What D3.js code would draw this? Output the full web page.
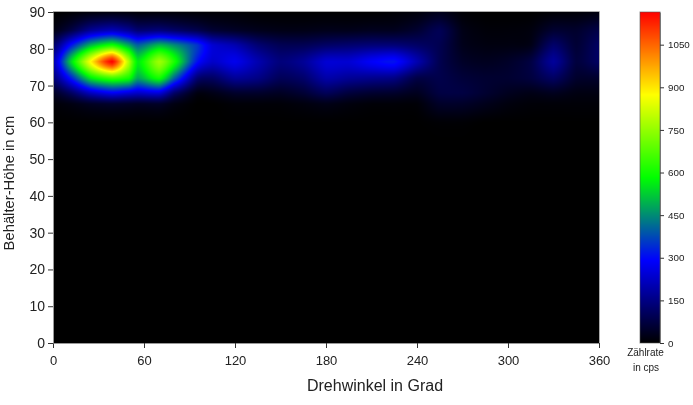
<!DOCTYPE html>
<html><head><meta charset="utf-8">
<script src="https://cdn.jsdelivr.net/npm/d3@7"></script>
<style>html,body{margin:0;background:#fff}svg{display:block;position:absolute;left:0;top:0}canvas{position:absolute}
text{font-family:"Liberation Sans",Arial,sans-serif;fill:#222}</style></head><body>
<div id="c"></div>
<script>
const angles=[0,12,25,39,50,56,70,80,95,105,120,135,150,165,180,195,210,225,240,255,270,285,300,315,330,345,360];
const heights=[0,55,60,65,68,72,76.5,81,85,90];
const row0 =angles.map(()=>0);
const row55=angles.map(()=>0);
const row60=[0,0,0,0,0,0,0,0,0,0,0,0,0,0,0,0,0,0,0,5,5,0,0,0,0,0,0];
const row65=[8,20,40,50,45,40,45,20,0,0,8,8,8,15,25,15,8,8,8,45,45,30,15,8,8,8,8];
const row68=[40,110,220,280,250,230,250,120,20,25,50,50,40,60,100,70,55,50,35,75,75,55,35,25,35,20,20];
const row72=[130,320,560,650,600,480,600,400,130,110,170,150,100,120,190,170,160,150,80,85,65,55,55,70,110,50,50];
const row765=[190,540,880,1165,780,560,760,610,310,230,270,200,140,170,240,240,285,310,200,90,45,35,45,75,175,70,110];
const row81=[110,310,500,600,480,400,500,450,350,240,200,130,95,95,115,125,135,135,115,90,30,18,18,25,120,60,110];
const row85=[20,80,170,210,170,130,140,120,90,60,45,32,25,25,30,30,35,35,55,95,25,10,10,15,55,50,80];
const row90=[0,5,12,15,12,8,8,8,5,5,5,0,0,0,0,0,0,5,12,30,5,0,0,0,5,8,15];
const grid=[row0,row55,row60,row65,row68,row72,row765,row81,row85,row90];
const xTicks=[0,60,120,180,240,300,360];
const yTicks=[0,10,20,30,40,50,60,70,80,90];
const cbTicks=[0,150,300,450,600,750,900,1050];
const cbStops=[0,291,582,873,1165];
const cbColors=["#000000","#0000ff","#00ff00","#ffff00","#ff0000"];

const W=693,H=405,L=53,R=599,T=12,B=343,CL=640,CR=660;
const x=d3.scaleLinear([0,360],[L,R]);
const y=d3.scaleLinear([0,90],[B,T]);
const cb=d3.scaleLinear([0,1165],[B,T]);
const color=d3.scaleLinear(cbStops,cbColors).clamp(true);
const ax=d3.scaleLinear(angles,angles.map((_,i)=>i));
const hy=d3.scaleLinear(heights,heights.map((_,i)=>i));

function cr(p0,p1,p2,p3,t){return 0.5*(2*p1+(p2-p0)*t+(2*p0-5*p1+4*p2-p3)*t*t+(3*p1-p0-3*p2+p3)*t*t*t);}
function at(j,i){j=Math.max(0,Math.min(grid.length-1,j));i=Math.max(0,Math.min(angles.length-1,i));return grid[j][i];}
function field(a,h){
  const u=ax(a),v=hy(h),i=Math.floor(u),j=Math.floor(v),tu=u-i,tv=v-j,col=[];
  for(let k=-1;k<=2;k++)col.push(cr(at(j+k,i-1),at(j+k,i),at(j+k,i+1),at(j+k,i+2),tu));
  const smooth=cr(col[0],col[1],col[2],col[3],tv);
  const lin=(at(j,i)*(1-tu)+at(j,i+1)*tu)*(1-tv)+(at(j+1,i)*(1-tu)+at(j+1,i+1)*tu)*tv;
  return Math.max(0,0.55*smooth+0.45*lin);
}
const root=d3.select("#c");
function canvas(x0,y0,w,h,fn){
  const c=root.append("canvas").attr("width",w).attr("height",h).style("left",x0+"px").style("top",y0+"px").node();
  const g=c.getContext("2d"),im=g.createImageData(w,h);
  for(let py=0;py<h;py++)for(let px=0;px<w;px++){
    const q=d3.rgb(fn(px+x0+.5,py+y0+.5)),o=(py*w+px)*4;
    im.data[o]=q.r;im.data[o+1]=q.g;im.data[o+2]=q.b;im.data[o+3]=255;
  }
  g.putImageData(im,0,0);
}
canvas(L,T,R-L,B-T,(px,py)=>color(field(x.invert(px),y.invert(py))));
canvas(CL,T,CR-CL,B-T,(px,py)=>color(cb.invert(py)));

const svg=root.append("svg").attr("width",W).attr("height",H);
const ga=svg.append("g").attr("transform",`translate(0,${B})`).call(d3.axisBottom(x).tickValues(xTicks).tickSize(5).tickPadding(8).tickSizeOuter(5));
const gl=svg.append("g").attr("transform",`translate(${L},0)`).call(d3.axisLeft(y).tickValues(yTicks).tickSize(5).tickPadding(3).tickSizeOuter(0));
[ga,gl].forEach(g=>{g.selectAll("line").attr("stroke","#333");g.select(".domain").attr("stroke","#999").attr("stroke-width",1);g.attr("font-family",null);});
ga.selectAll("text").style("font-size","13px");
gl.selectAll("text").style("font-size","14px");
const gc=svg.append("g").attr("transform",`translate(${CR},0)`).call(d3.axisRight(cb).tickValues(cbTicks).tickFormat(d3.format("d")).tickSize(4).tickPadding(4).tickSizeOuter(0));
gc.selectAll("text").style("font-size","9.8px");gc.selectAll("line").attr("stroke","#333");gc.select(".domain").attr("stroke","#888");
gc.attr("font-family",null);
svg.append("rect").attr("x",CL).attr("y",T).attr("width",CR-CL).attr("height",B-T).attr("fill","none").attr("stroke","#555").attr("stroke-opacity",.6);
svg.append("path").attr("d",`M${L},${T-.5}H${R+.5}V${B}`).attr("fill","none").attr("stroke","#aaa");
svg.append("text").attr("x",375).attr("y",391).attr("text-anchor","middle").style("font-size","16px").text("Drehwinkel in Grad");
svg.append("text").attr("transform",`translate(13.5,183) rotate(-90)`).attr("text-anchor","middle").style("font-size","14.8px").text("Behälter-Höhe in cm");
svg.append("text").attr("x",645.5).attr("y",356).attr("text-anchor","middle").style("font-size","10px").text("Zählrate");
svg.append("text").attr("x",646).attr("y",371).attr("text-anchor","middle").style("font-size","10px").text("in cps");
</script></body></html>
